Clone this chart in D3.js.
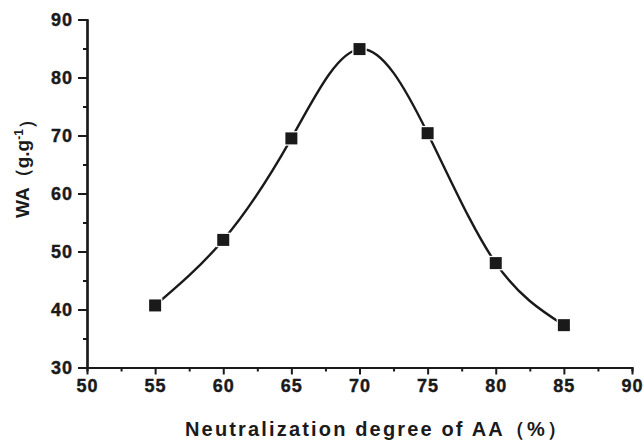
<!DOCTYPE html>
<html><head><meta charset="utf-8">
<script src="https://cdn.jsdelivr.net/npm/d3@7"></script>
<style>
html,body{margin:0;padding:0;background:#fff;}
svg text{font-family:"Liberation Sans",Arial,sans-serif;font-weight:bold;fill:#1a1a1a;}
</style></head>
<body>
<svg id="chart" width="643" height="440"></svg>
<script>
const xValues = [55, 60, 65, 70, 75, 80, 85];
const waValues = [40.7, 52.0, 69.5, 84.9, 70.4, 48.0, 37.3];
const xTicks = [50, 55, 60, 65, 70, 75, 80, 85, 90];
const yTicks = [30, 40, 50, 60, 70, 80, 90];
const xMinor = [52.5, 57.5, 62.5, 67.5, 72.5, 77.5, 82.5, 87.5];
const yMinor = [35, 45, 55, 65, 75, 85];
const xTitle = "Neutralization degree of AA（%）";

(function () {
const svg = d3.select("#chart");
const mLeft = 87, mRight = 632, mTop = 19.5, mBottom = 367.5;
const x = d3.scaleLinear().domain([50, 90]).range([mLeft, mRight]);
const y = d3.scaleLinear().domain([30, 90]).range([mBottom, mTop]);
const ink = "#1a1a1a";

// minor ticks
svg.append("g").attr("transform", `translate(0,${mBottom})`)
  .call(d3.axisBottom(x).tickValues(xMinor).tickSize(4).tickFormat(""));
svg.append("g").attr("transform", `translate(${mLeft},0)`)
  .call(d3.axisLeft(y).tickValues(yMinor).tickSize(4).tickFormat(""));

// major axes
svg.append("g").attr("transform", `translate(0,${mBottom})`)
  .call(d3.axisBottom(x).tickValues(xTicks).tickSize(7).tickPadding(5).tickSizeOuter(0).tickFormat(d3.format("d")));
const ay = svg.append("g").attr("transform", `translate(${mLeft},0)`)
  .call(d3.axisLeft(y).tickValues(yTicks).tickSize(9).tickPadding(5).tickSizeOuter(0).tickFormat(d3.format("d")));

svg.selectAll(".domain").attr("stroke", ink).attr("stroke-width", 2.2);
svg.selectAll(".tick line").attr("stroke", ink).attr("stroke-width", 2);
svg.selectAll(".tick text").style("font-size", "18px").style("letter-spacing", "1px").attr("fill", ink)
  .attr("stroke", ink).attr("stroke-width", 0.4);
ay.selectAll(".tick text").attr("dy", "0.36em");

// curve
const pts = xValues.map((v, i) => [v, waValues[i]]);
svg.append("path")
  .attr("d", d3.line().x(d => x(d[0])).y(d => y(d[1])).curve(d3.curveNatural)(pts))
  .attr("fill", "none").attr("stroke", ink).attr("stroke-width", 2.4);

// markers
const s = 12;
svg.selectAll("rect.pt").data(pts).enter().append("rect")
  .attr("class", "pt")
  .attr("x", d => x(d[0]) - s / 2).attr("y", d => y(d[1]) - s / 2)
  .attr("width", s).attr("height", s)
  .attr("fill", ink).attr("stroke", "#fff").attr("stroke-width", 2.5)
  .attr("paint-order", "stroke");

// x title
svg.append("text").attr("x", 376).attr("y", 436)
  .attr("text-anchor", "middle").style("font-size", "20px")
  .attr("textLength", 382).attr("lengthAdjust", "spacing")
  .text(xTitle);

// y title
const yt = svg.append("text").attr("transform", "translate(29,164) rotate(-90)")
  .attr("text-anchor", "middle").style("font-size", "19px");
yt.append("tspan").text("WA（g.g");
yt.append("tspan").attr("dy", "-0.5em").style("font-size", "12px").text("-1");
yt.append("tspan").attr("dy", "0.5em").text("）");
})();
</script>
</body></html>
